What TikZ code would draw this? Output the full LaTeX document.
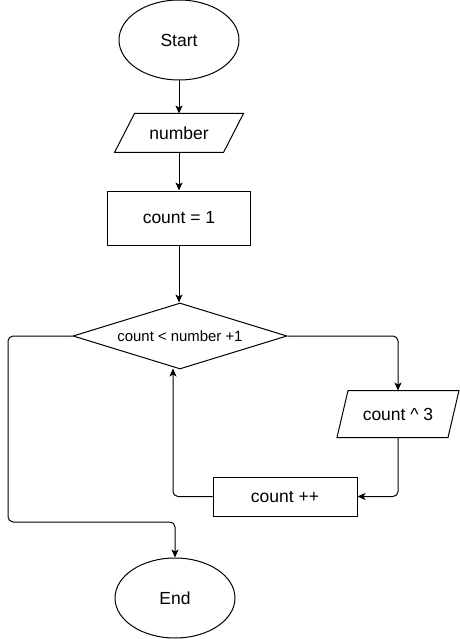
\documentclass[tikz,border=0pt]{standalone}
\usepackage{fontspec}
\setmainfont{Liberation Sans}
\usetikzlibrary{shapes.geometric,arrows.meta,calc}
\tikzset{
  base/.style={draw=black, line width=1pt, inner sep=0pt, font=\fontsize{17.5}{20}\selectfont, text=black},
  term/.style={base, ellipse, minimum width=120pt, minimum height=80pt},
  io/.style={base, draw=none, rectangle},
  proc/.style={base, rectangle},
  dec/.style={base, diamond, shape aspect=3.24, minimum width=214pt, minimum height=66pt, font=\fontsize{14.9}{17}\selectfont},
  conn/.style={line width=1pt, draw=black, rounded corners=5pt, -{Stealth[length=8pt,width=7pt,inset=2pt]}},
  plain/.style={line width=1pt, draw=black, line join=miter}
}
\begin{document}
\begin{tikzpicture}[x=1pt,y=-1pt]
\useasboundingbox (0,0) rectangle (459,639);
\node[term] (start) at (179,40) {Start};
\node[io, minimum width=128pt, minimum height=38pt] (num) at (179,133) {number};
\draw[plain] (num.south west) -- ($(num.north west)+(20,0)$) -- (num.north east) -- ($(num.south east)+(-20,0)$) -- cycle;
\node[proc, minimum width=143pt, minimum height=54pt] (init) at (179,218) {count = 1};
\node[dec] (cond) at (180,336) {count < number +1};
\node[io, minimum width=121pt, minimum height=46pt] (cube) at (398,414) {count \^{} 3};
\draw[plain] (cube.south west) -- ($(cube.north west)+(11,0)$) -- (cube.north east) -- ($(cube.south east)+(-11,0)$) -- cycle;
\node[proc, minimum width=144pt, minimum height=39pt] (inc) at (285,496.5) {count ++};
\node[term] (end) at (175,598) {End};
\coordinate (loopin) at (173,368.5);
\coordinate (leftc) at (8,522);
\draw[conn] (start) -- (num);
\draw[conn] (num) -- (init);
\draw[conn] (init) -- (init.south |- cond.north);
\draw[conn] (cond.east) -| (cube.north);
\draw[conn] (cube.south) |- (inc.east);
\draw[conn] (inc.west) -| (loopin);
\draw[conn] (cond.west) -| (leftc) -| (end.north);
\end{tikzpicture}
\end{document}
